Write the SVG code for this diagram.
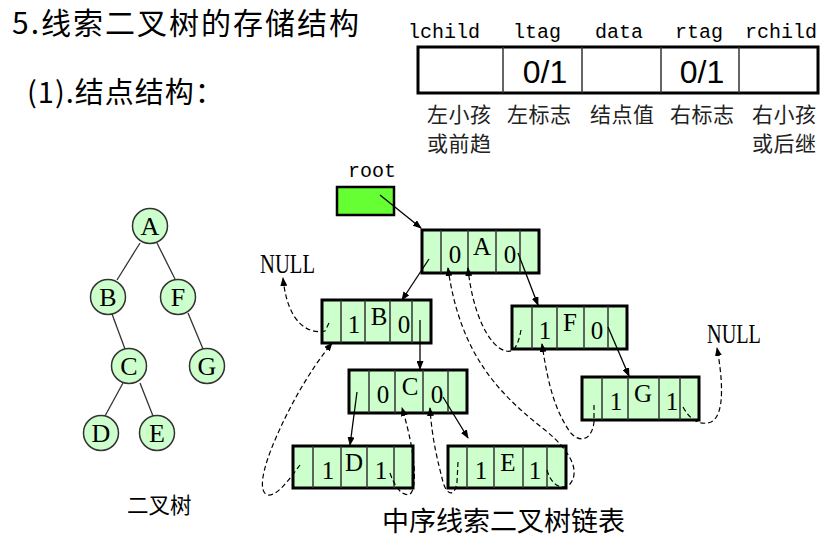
<svg xmlns="http://www.w3.org/2000/svg" width="826" height="557" viewBox="0 0 826 557">
<style>
.cjk{font-family:"Noto Sans CJK SC","Noto Sans",sans-serif;fill:#000}
.mono{font-family:"Liberation Mono","DejaVu Sans Mono",monospace;font-size:20px;fill:#000}
.tag{font-family:"Liberation Sans",Arial,sans-serif;font-size:32px;fill:#000;text-anchor:middle}
.lbl{font-family:"Noto Sans CJK SC",sans-serif;font-size:21px;fill:#222;letter-spacing:0.5px}
.ser{font-family:"Liberation Serif","Times New Roman",serif;fill:#000;text-anchor:middle}
.null{font-family:"Liberation Serif","Times New Roman",serif;fill:#000;font-size:28px}
.nt{font-size:25px}
.tt{font-size:26px}
.outer{fill:#ccffcc;stroke:#000;stroke-width:3}
.div{stroke:#333;stroke-width:1.5}
.circ{fill:#ccffcc;stroke:#333;stroke-width:1.5}
.edge{stroke:#333;stroke-width:1.3;fill:none}
.ptr{stroke:#000;stroke-width:1.3;fill:none;marker-end:url(#ah)}
.thr{stroke:#000;stroke-width:1.2;fill:none;stroke-dasharray:5 3;marker-end:url(#ah)}
</style>
<defs>
<marker id="ah" markerWidth="9" markerHeight="7" refX="8" refY="3.5" orient="auto" markerUnits="userSpaceOnUse">
<path d="M0,0 L9,3.5 L0,7 z" fill="#000"/>
</marker>
</defs>
<rect width="826" height="557" fill="#fff"/>

<g id="title">
<text class="cjk" x="12" y="34" font-size="30" letter-spacing="2">5.线索二叉树的存储结构</text>
<text class="cjk" x="27" y="103" font-size="29" letter-spacing="1">(1).结点结构：</text>
</g>

<g id="structure">
<text class="mono" x="408" y="38">lchild</text>
<text class="mono" x="513" y="38">ltag</text>
<text class="mono" x="595" y="38">data</text>
<text class="mono" x="675" y="38">rtag</text>
<text class="mono" x="745" y="38">rchild</text>
<rect x="418" y="47" width="400" height="46" fill="#fff" stroke="#000" stroke-width="3"/>
<line class="div" x1="503" y1="47" x2="503" y2="93"/>
<line class="div" x1="582" y1="47" x2="582" y2="93"/>
<line class="div" x1="661" y1="47" x2="661" y2="93"/>
<line class="div" x1="739" y1="47" x2="739" y2="93"/>
<text class="tag" x="545" y="83">0/1</text>
<text class="tag" x="702" y="83">0/1</text>
<text class="lbl" x="427" y="122">左小孩</text>
<text class="lbl" x="427" y="151">或前趋</text>
<text class="lbl" x="507" y="122">左标志</text>
<text class="lbl" x="590" y="122">结点值</text>
<text class="lbl" x="670" y="122">右标志</text>
<text class="lbl" x="752" y="122">右小孩</text>
<text class="lbl" x="752" y="151">或后继</text>
</g>

<g id="tree">
<line class="edge" x1="140" y1="243" x2="117" y2="280"/>
<line class="edge" x1="157" y1="243" x2="175" y2="279"/>
<line class="edge" x1="112" y1="314" x2="125" y2="349"/>
<line class="edge" x1="188" y1="313" x2="203" y2="349"/>
<line class="edge" x1="123" y1="383" x2="105" y2="416"/>
<line class="edge" x1="140" y1="383" x2="153" y2="416"/>
<g id="tA"><circle class="circ" cx="150" cy="226" r="17.5"/><text class="ser tt" x="150" y="235">A</text></g>
<g id="tB"><circle class="circ" cx="108" cy="297" r="17.5"/><text class="ser tt" x="108" y="306">B</text></g>
<g id="tF"><circle class="circ" cx="178" cy="297" r="17.5"/><text class="ser tt" x="178" y="306">F</text></g>
<g id="tC"><circle class="circ" cx="129" cy="366" r="17.5"/><text class="ser tt" x="129" y="375">C</text></g>
<g id="tG"><circle class="circ" cx="207" cy="366" r="17.5"/><text class="ser tt" x="207" y="375">G</text></g>
<g id="tD"><circle class="circ" cx="101" cy="433" r="17.5"/><text class="ser tt" x="101" y="442">D</text></g>
<g id="tE"><circle class="circ" cx="157" cy="433" r="17.5"/><text class="ser tt" x="157" y="442">E</text></g>
<text class="cjk" x="127" y="513" font-size="21.5" fill="#222">二叉树</text>
</g>

<g id="root">
<text class="mono" x="348" y="177" font-size="18">root</text>
<rect x="337" y="187" width="57" height="28" fill="#66ff33" stroke="#000" stroke-width="2.5"/>
</g>

<g id="nodeA">
<rect class="outer" x="422" y="230" width="117" height="43"/>
<line class="div" x1="441" y1="230" x2="441" y2="273"/><line class="div" x1="468" y1="230" x2="468" y2="273"/>
<line class="div" x1="496" y1="230" x2="496" y2="273"/><line class="div" x1="520" y1="230" x2="520" y2="273"/>
<text class="ser nt" x="455" y="263">0</text><text class="ser nt" x="482" y="255">A</text><text class="ser nt" x="510" y="263">0</text>
</g>
<g id="nodeB">
<rect class="outer" x="322" y="300" width="109" height="43"/>
<line class="div" x1="341" y1="300" x2="341" y2="343"/><line class="div" x1="365" y1="300" x2="365" y2="343"/>
<line class="div" x1="390" y1="300" x2="390" y2="343"/><line class="div" x1="412" y1="300" x2="412" y2="343"/>
<text class="ser nt" x="354" y="333">1</text><text class="ser nt" x="379" y="325">B</text><text class="ser nt" x="404" y="333">0</text>
</g>
<g id="nodeF">
<rect class="outer" x="512" y="306" width="115" height="43"/>
<line class="div" x1="532" y1="306" x2="532" y2="349"/><line class="div" x1="557" y1="306" x2="557" y2="349"/>
<line class="div" x1="584" y1="306" x2="584" y2="349"/><line class="div" x1="608" y1="306" x2="608" y2="349"/>
<text class="ser nt" x="545" y="339">1</text><text class="ser nt" x="570" y="331">F</text><text class="ser nt" x="597" y="339">0</text>
</g>
<g id="nodeC">
<rect class="outer" x="349" y="370" width="118" height="43"/>
<line class="div" x1="369" y1="370" x2="369" y2="413"/><line class="div" x1="395" y1="370" x2="395" y2="413"/>
<line class="div" x1="423" y1="370" x2="423" y2="413"/><line class="div" x1="448" y1="370" x2="448" y2="413"/>
<text class="ser nt" x="383" y="403">0</text><text class="ser nt" x="410" y="395">C</text><text class="ser nt" x="437" y="403">0</text>
</g>
<g id="nodeG">
<rect class="outer" x="582" y="377" width="117" height="43"/>
<line class="div" x1="602" y1="377" x2="602" y2="420"/><line class="div" x1="628" y1="377" x2="628" y2="420"/>
<line class="div" x1="659" y1="377" x2="659" y2="420"/><line class="div" x1="680" y1="377" x2="680" y2="420"/>
<text class="ser nt" x="616" y="410">1</text><text class="ser nt" x="643" y="402">G</text><text class="ser nt" x="672" y="410">1</text>
</g>
<g id="nodeD">
<rect class="outer" x="293" y="446" width="120" height="42"/>
<line class="div" x1="313" y1="446" x2="313" y2="488"/><line class="div" x1="341" y1="446" x2="341" y2="488"/>
<line class="div" x1="367" y1="446" x2="367" y2="488"/><line class="div" x1="394" y1="446" x2="394" y2="488"/>
<text class="ser nt" x="328" y="479">1</text><text class="ser nt" x="354" y="471">D</text><text class="ser nt" x="381" y="479">1</text>
</g>
<g id="nodeE">
<rect class="outer" x="448" y="446" width="118" height="42"/>
<line class="div" x1="467" y1="446" x2="467" y2="488"/><line class="div" x1="494" y1="446" x2="494" y2="488"/>
<line class="div" x1="523" y1="446" x2="523" y2="488"/><line class="div" x1="547" y1="446" x2="547" y2="488"/>
<text class="ser nt" x="481" y="479">1</text><text class="ser nt" x="508" y="471">E</text><text class="ser nt" x="535" y="479">1</text>
</g>

<g id="nulls">
<text class="null" x="260" y="273" textLength="55" lengthAdjust="spacingAndGlyphs">NULL</text>
<text class="null" x="707" y="343" textLength="54" lengthAdjust="spacingAndGlyphs">NULL</text>
</g>

<g id="connectors">
<path class="ptr" d="M380,195 L421,228"/>
<path class="ptr" d="M429,259 L402,300"/>
<path class="ptr" d="M518,253 L538,305"/>
<path class="ptr" d="M420,320 L420,369"/>
<path class="ptr" d="M357,392 L350,445"/>
<path class="ptr" d="M443,397 L468,438"/>
<path class="ptr" d="M608,327 L629,376"/>
<path class="thr" d="M329,323 L325,331 C312,334 288,328 283,278"/>
<path class="thr" d="M300,465 C290,478 278,496 268,495 C258,493 262,470 275,440 C290,405 310,370 332,343"/>
<path class="thr" d="M390,473 C395,488 403,497 410,494 C418,488 415,450 402,408"/>
<path class="thr" d="M458,462 L457,482 C455,497 447,496 443,482 C438,462 432,440 430,408"/>
<path class="thr" d="M547,470 C551,485 562,491 570,484 C580,472 572,452 545,430 C500,395 460,355 448,268"/>
<path class="thr" d="M521,330 C518,346 514,353 506,351 C488,347 472,310 468,268"/>
<path class="thr" d="M594,405 L594,422 C592,440 580,444 570,432 C555,410 548,385 542,344"/>
<path class="thr" d="M683,407 C690,420 700,426 711,422 C726,415 722,375 717,348"/>
</g>

<text class="cjk" x="382" y="531" font-size="27" fill="#111">中序线索二叉树链表</text>
</svg>
